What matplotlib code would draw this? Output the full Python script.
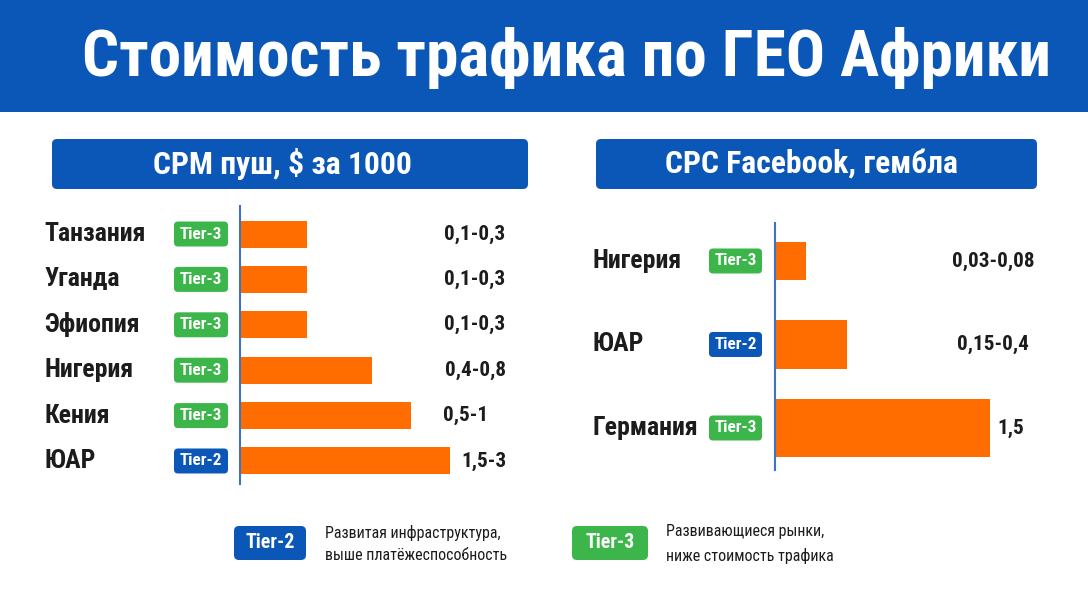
import matplotlib
matplotlib.use("Agg")
import matplotlib.pyplot as plt
from matplotlib import font_manager as fm
from matplotlib.patches import FancyBboxPatch, Rectangle

# data
cpm_countries = ["Танзания", "Уганда", "Эфиопия", "Нигерия", "Кения", "ЮАР"]
cpm_tiers = ["Tier-3", "Tier-3", "Tier-3", "Tier-3", "Tier-3", "Tier-2"]
cpm_labels = ["0,1-0,3", "0,1-0,3", "0,1-0,3", "0,4-0,8", "0,5-1", "1,5-3"]
cpm_bars = [0.67, 0.67, 0.67, 1.32, 1.71, 2.10]   # visual bar length

cpc_countries = ["Нигерия", "ЮАР", "Германия"]
cpc_tiers = ["Tier-3", "Tier-2", "Tier-3"]
cpc_labels = ["0,03-0,08", "0,15-0,4", "1,5"]
cpc_bars = [0.31, 0.72, 2.15]

title = "Стоимость трафика по ГЕО Африки"
head_left = "CPM пуш, $ за 1000"
head_right = "CPC Facebook, гембла"
legend_items = [("Tier-2", "Развитая инфраструктура,\nвыше платёжеспособность"),
                ("Tier-3", "Развивающиеся рынки,\nниже стоимость трафика")]

BLUE = "#0b57b8"
GREEN = "#3cb54a"
ORANGE = "#ff6d00"
LINE = "#3f72c2"
INK = "#1c1c1c"
tier_col = {"Tier-2": BLUE, "Tier-3": GREEN}

have = {f.name for f in fm.fontManager.ttflist}
cond = [n for n in ["Roboto Condensed", "Barlow Semi Condensed", "Asap Condensed"] if n in have]
NARROW = cond[:1] + ["DejaVu Sans"]

W, H = 1088, 608
fig = plt.figure(figsize=(W / 100, H / 100), dpi=100)

# overlay in pixel coords
ov = fig.add_axes([0, 0, 1, 1])
ov.set_xlim(0, W)
ov.set_ylim(H, 0)
ov.axis("off")


def rbox(x0, y0, x1, y1, color, r=5):
    ov.add_patch(FancyBboxPatch((x0, y0), x1 - x0, y1 - y0,
                                boxstyle="round,pad=0,rounding_size=%d" % r,
                                fc=color, ec="none", zorder=2))


# banner
ov.add_patch(Rectangle((0, 0), W, 112, fc=BLUE, ec="none", zorder=1))
ov.text(566, 58, title, color="white", fontsize=47, fontweight="bold",
        family=NARROW, ha="center", va="center", zorder=3)

# panel headers
rbox(52, 139, 528, 189, BLUE)
ov.text(282, 164, head_left, color="white", fontsize=22.8, fontweight="bold",
        family=NARROW, ha="center", va="center", zorder=3)
rbox(596, 139, 1037, 189, BLUE)
ov.text(811, 164, head_right, color="white", fontsize=22.8, fontweight="bold",
        family=NARROW, ha="center", va="center", zorder=3)


def panel(x0, x1, ytop, ybot, ylim, countries, tiers, labels, bars, heights,
          lab_x, badge_x, val_x):
    ax = fig.add_axes([x0 / W, (H - ybot) / H, (x1 - x0) / W, (ybot - ytop) / H])
    ax.patch.set_alpha(0)
    rows = list(range(len(countries)))
    ax.barh(rows, bars, height=heights, color=ORANGE, zorder=2)
    ax.set_xlim(0, (x1 - x0) / 100)
    ax.set_ylim(*ylim)
    for s in ["top", "right", "bottom"]:
        ax.spines[s].set_visible(False)
    ax.spines["left"].set_color(LINE)
    ax.spines["left"].set_linewidth(1.5)
    ax.set_xticks([])
    ax.set_yticks([])
    for i in rows:
        yp = H - ax.transData.transform((0, i))[1]
        ov.text(lab_x, yp, countries[i], fontsize=18.6, fontweight="bold",
                family=NARROW, color=INK, ha="left", va="center")
        rbox(badge_x[0], yp - 12.5, badge_x[1], yp + 12.5, tier_col[tiers[i]], r=4)
        ov.text((badge_x[0] + badge_x[1]) / 2, yp, tiers[i], fontsize=12.3,
                fontweight="bold", family=NARROW, color="white",
                ha="center", va="center", zorder=3)
        ov.text(val_x[i], yp, labels[i], fontsize=15.2, fontweight="bold",
                family=NARROW, color=INK, ha="center", va="center")
    return ax


panel(240, 540, 206, 484, (5.507, -0.617), cpm_countries, cpm_tiers, cpm_labels,
      cpm_bars, 0.595, 44, (174, 228), [475, 475, 475, 476, 466, 484])
panel(775, 1075, 223, 470, (2.503, -0.455), cpc_countries, cpc_tiers, cpc_labels,
      cpc_bars, [0.455, 0.575, 0.683], 592, (709, 762), [993, 993, 1011])

# legend
for (tier, desc), (bx0, bx1, tx) in zip(legend_items, [(234, 306, 325), (572, 648, 666)]):
    rbox(bx0, 526, bx1, 560, tier_col[tier], r=5)
    ov.text((bx0 + bx1) / 2, 543, tier, fontsize=14.3, fontweight="bold",
            family=NARROW, color="white", ha="center", va="center", zorder=3)
    ov.text(tx, 544, desc, fontsize=11.5, family=NARROW, color=INK,
            ha="left", va="center", linespacing=1.65)

fig.savefig("out.png", dpi=100)
